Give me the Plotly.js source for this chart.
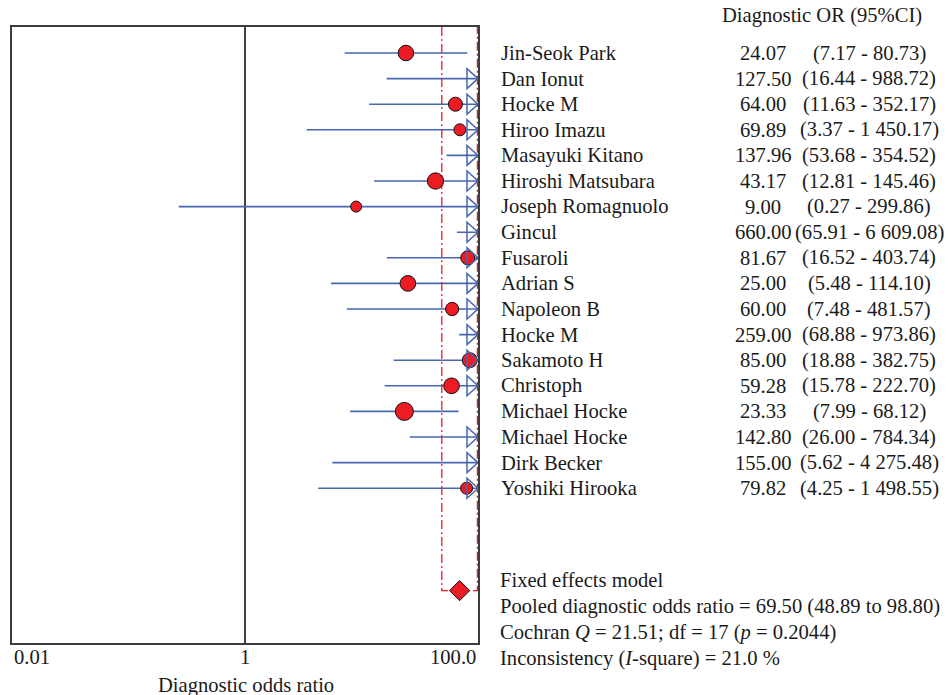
<!DOCTYPE html>
<html><head><meta charset="utf-8">
<script src="https://cdn.plot.ly/plotly-3.0.1.min.js"></script>
<style>html,body{margin:0;padding:0;background:#fff}#chart{width:948px;height:695px}</style>
</head><body><div id="chart"></div>
<script>
// ---- data ----
const studies = ["Jin-Seok Park","Dan Ionut","Hocke M","Hiroo Imazu","Masayuki Kitano","Hiroshi Matsubara","Joseph Romagnuolo","Gincul","Fusaroli","Adrian S","Napoleon B","Hocke M","Sakamoto H","Christoph","Michael Hocke","Michael Hocke","Dirk Becker","Yoshiki Hirooka"];
const orValues = [24.07,127.50,64.00,69.89,137.96,43.17,9.00,660.00,81.67,25.00,60.00,259.00,85.00,59.28,23.33,142.80,155.00,79.82];
const ciLow = [7.17,16.44,11.63,3.37,53.68,12.81,0.27,65.91,16.52,5.48,7.48,68.88,18.88,15.78,7.99,26.00,5.62,4.25];
const ciHigh = [80.73,988.72,352.17,1450.17,354.52,145.46,299.86,6609.08,403.74,114.10,481.57,973.86,382.75,222.70,68.12,784.34,4275.48,1498.55];
const weights = [15.0,6.0,12.3,9.0,10.0,16.6,7.6,8.0,12.3,15.4,11.0,10.0,14.0,15.4,20.3,10.0,5.0,9.0];
const pooledOR = 69.50, pooledLow = 48.89, pooledHigh = 98.80;
const tickVals = [0.01, 1, 100];
const tickText = ["0.01", "1", "100.0"];
const summaryLines = [
  "Fixed effects model",
  "Pooled diagnostic odds ratio = 69.50 (48.89 to 98.80)",
  "Cochran <i>Q</i> = 21.51; df = 17 (<i>p</i> = 0.2044)",
  "Inconsistency (<i>I</i>-square) = 21.0 %"
];

// ---- helpers ----
function fmt(v) {
  const s = v.toFixed(2);
  const [ip, dp] = s.split(".");
  return ip.replace(/\B(?=(\d{3})+(?!\d))/g, " ") + "." + dp;
}
const FONT = "Liberation Serif, Times New Roman, serif";
const FS = 20.6;
const blue = "#4767b3";
const red = "#ec1c24";

const rows = studies.map((_, i) => i);
const diamondRow = studies.length + 3;
const xMin = tickVals[0], xMax = tickVals[tickVals.length - 1];
const yTop = -1.016, yBottom = 23.047;

// CI lines
const lx = [], ly = [];
rows.forEach(i => { lx.push(ciLow[i], ciHigh[i], null); ly.push(i, i, null); });

const traces = [
  { type: "scatter", mode: "lines", x: lx, y: ly, line: {color: blue, width: 1.6}, hoverinfo: "skip", showlegend: false },
  { type: "scatter", mode: "lines", x: [pooledLow, pooledLow, pooledHigh, pooledHigh], y: [yTop, diamondRow, diamondRow, yTop],
    line: {color: red, width: 1.3, dash: "9px,3px,2px,3px"}, hoverinfo: "skip", showlegend: false },
  { type: "scatter", mode: "markers", x: orValues, y: rows, text: studies,
    marker: {symbol: "circle", color: red, opacity: 1, size: weights.map(w => 4 * Math.sqrt(w)), line: {color: "#111", width: 1}},
    showlegend: false },
  { type: "scatter", mode: "markers", x: [pooledOR], y: [diamondRow],
    marker: {symbol: "diamond", color: red, opacity: 1, size: 15.5, line: {color: "#111", width: 1}}, showlegend: false }
];

// shapes: reference line at 1, arrows for CIs beyond the axis
const shapes = [
  { type: "line", xref: "x", yref: "paper", x0: 1, x1: 1, y0: 0, y1: 1, line: {color: "#000", width: 1.5}, layer: "below" }
];
rows.forEach(i => {
  if (ciHigh[i] > xMax) {
    shapes.push({ type: "path", xref: "x", yref: "y", xsizemode: "pixel", ysizemode: "pixel",
      xanchor: xMax, yanchor: i, path: "M-11,-10L0,0L-11,10Z",
      line: {color: blue, width: 1.5}, fillcolor: "rgba(255,255,255,0)", layer: "above" });
  }
});

// annotations
const L = 12, W = 466, T = 27, H = 616;
const px2x = p => (p - L) / W;
const py2y = p => (T + H - p) / H;
const ann = [];
const base = {showarrow: false, font: {family: FONT, size: FS, color: "#1a1a1a"}};
rows.forEach(i => {
  ann.push(Object.assign({}, base, {xref: "paper", yref: "y", x: px2x(499), y: i, xanchor: "left", yanchor: "middle", text: studies[i]}));
  ann.push(Object.assign({}, base, {xref: "paper", yref: "y", x: px2x(763), y: i, xanchor: "center", yanchor: "middle", text: fmt(orValues[i])}));
  ann.push(Object.assign({}, base, {xref: "paper", yref: "y", x: px2x(869), y: i, xanchor: "center", yanchor: "middle", text: "(" + fmt(ciLow[i]) + " - " + fmt(ciHigh[i]) + ")"}));
});
ann.push(Object.assign({}, base, {xref: "paper", yref: "paper", x: px2x(822), y: py2y(15), xanchor: "center", yanchor: "middle", text: "Diagnostic OR (95%CI)"}));
summaryLines.forEach((t, k) => {
  ann.push(Object.assign({}, base, {xref: "paper", yref: "paper", x: px2x(498), y: py2y(580 + 26 * k), xanchor: "left", yanchor: "middle", text: t}));
});
tickVals.forEach((v, k) => {
  ann.push(Object.assign({}, base, {xref: "x", yref: "paper", x: Math.log10(v), y: py2y(657), yanchor: "middle",
    xanchor: k === 0 ? "left" : (k === tickVals.length - 1 ? "right" : "center"), text: tickText[k]}));
});
ann.push(Object.assign({}, base, {xref: "paper", yref: "paper", x: px2x(246), y: py2y(685), xanchor: "center", yanchor: "middle", text: "Diagnostic odds ratio"}));

const layout = {
  width: 948, height: 695,
  margin: {l: L, r: 948 - L - W, t: T, b: 695 - T - H},
  paper_bgcolor: "#fff", plot_bgcolor: "#fff",
  showlegend: false,
  xaxis: {type: "log", range: [Math.log10(xMin), Math.log10(xMax)], tickvals: tickVals, showticklabels: false, ticks: "",
    showgrid: false, zeroline: false, showline: true, mirror: true, linecolor: "#3c3c3c", linewidth: 2, fixedrange: true},
  yaxis: {range: [yBottom, yTop], showticklabels: false, ticks: "", showgrid: false, zeroline: false,
    showline: true, mirror: true, linecolor: "#3c3c3c", linewidth: 2, fixedrange: true},
  shapes: shapes,
  annotations: ann,
  font: {family: FONT, size: FS, color: "#1a1a1a"}
};
Plotly.newPlot("chart", traces, layout, {displayModeBar: false, staticPlot: true});
</script></body></html>
